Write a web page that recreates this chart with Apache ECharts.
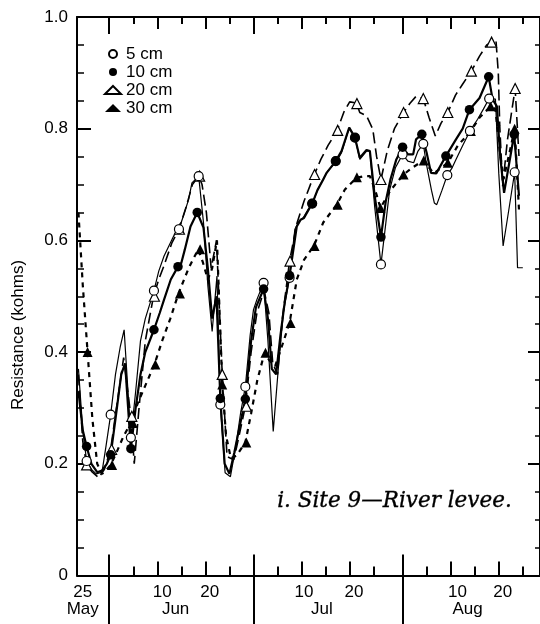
<!DOCTYPE html>
<html>
<head>
<meta charset="utf-8">
<script src="https://cdn.jsdelivr.net/npm/echarts@6/dist/echarts.min.js"></script>
<style>
html,body{margin:0;padding:0;background:#fff;}
#chart{width:540px;height:624px;}
</style>
</head>
<body>
<div id="chart"></div>
<script>
// ---- Data (x = day number: May d = d, June d = 31+d, July d = 61+d, Aug d = 92+d) ----
const seriesNames = ['5 cm', '10 cm', '20 cm', '30 cm'];

// continuous records (lines)
const line5 = [[24.6,0.37],[25.5,0.26],[26.3,0.205],[27.3,0.19],[28.3,0.182],[29.5,0.185],[30.3,0.23],[31.3,0.288],[32.3,0.36],[33.3,0.41],[34.1,0.44],[35.5,0.247],[36.5,0.33],[37.5,0.42],[38.5,0.46],[40.3,0.51],[41.3,0.545],[42.4,0.572],[43.4,0.59],[44.4,0.608],[45.5,0.62],[46.5,0.646],[47.5,0.673],[48.2,0.703],[49.6,0.715],[50.6,0.632],[51.5,0.52],[52.4,0.437],[53.4,0.536],[54.1,0.306],[55.1,0.184],[56.2,0.177],[57.3,0.23],[58.3,0.29],[59.3,0.338],[60.3,0.43],[61.0,0.476],[61.7,0.494],[63.1,0.524],[64.0,0.42],[65.1,0.258],[66.2,0.375],[67.2,0.47],[68.5,0.535],[69.6,0.62],[70.5,0.635],[71.3,0.64],[72.3,0.655],[73.3,0.667],[74.3,0.69],[75.5,0.71],[76.5,0.725],[78.3,0.742],[79.3,0.757],[80.9,0.802],[82.1,0.784],[83.1,0.745],[84.5,0.76],[85.2,0.76],[86.2,0.66],[87.5,0.557],[88.5,0.63],[89.3,0.69],[90.5,0.73],[92.0,0.754],[93.1,0.742],[94.3,0.739],[95.2,0.76],[96.3,0.773],[96.9,0.739],[98.0,0.69],[98.6,0.667],[99.1,0.664],[100.2,0.69],[101.3,0.717],[102.3,0.73],[103.1,0.745],[104.5,0.77],[106.0,0.796],[107.6,0.817],[108.8,0.835],[110.0,0.854],[111.3,0.853],[112.0,0.72],[112.9,0.59],[114.0,0.65],[115.3,0.722],[115.9,0.551],[117.0,0.551]];
const line10 = [[24.6,0.33],[25.5,0.26],[26.3,0.231],[27.3,0.2],[28.5,0.185],[29.5,0.188],[30.5,0.2],[31.3,0.216],[32.3,0.28],[33.5,0.36],[34.3,0.38],[35.5,0.227],[36.5,0.3],[37.5,0.36],[38.5,0.4],[40.3,0.44],[41.5,0.47],[42.4,0.494],[43.8,0.53],[45.3,0.553],[46.0,0.56],[46.7,0.583],[47.9,0.625],[49.3,0.65],[50.6,0.623],[51.5,0.55],[52.4,0.46],[53.3,0.5],[54.1,0.317],[55.0,0.2],[56.0,0.182],[57.0,0.22],[58.2,0.27],[59.3,0.316],[60.5,0.42],[61.5,0.48],[63.1,0.513],[64.0,0.46],[64.8,0.37],[65.7,0.36],[66.6,0.43],[67.5,0.49],[68.5,0.537],[70.0,0.625],[70.8,0.637],[71.5,0.64],[73.2,0.666],[74.3,0.69],[75.5,0.709],[76.2,0.721],[78.1,0.742],[79.3,0.76],[80.9,0.802],[82.1,0.784],[83.1,0.748],[84.5,0.762],[85.2,0.76],[86.2,0.679],[87.5,0.606],[88.5,0.67],[89.5,0.71],[90.7,0.745],[92.0,0.767],[93.1,0.754],[94.2,0.754],[94.8,0.781],[96.0,0.79],[97.0,0.757],[97.9,0.721],[99.0,0.72],[101.0,0.751],[103.1,0.781],[104.5,0.8],[105.9,0.834],[108.0,0.855],[109.9,0.893],[110.7,0.853],[111.6,0.84],[112.3,0.75],[113.1,0.685],[114.2,0.74],[115.2,0.79],[116.2,0.68]];
const line20 = [[24.6,0.36],[25.5,0.24],[26.3,0.198],[27.5,0.185],[28.8,0.175],[30.0,0.19],[31.3,0.226],[32.5,0.3],[34.0,0.39],[35.5,0.285],[36.2,0.2],[37.2,0.3],[38.5,0.42],[40.2,0.5],[41.3,0.53],[42.4,0.555],[44.0,0.595],[45.5,0.62],[47.0,0.66],[48.3,0.7],[49.6,0.715],[50.3,0.7],[51.2,0.65],[52.2,0.55],[53.3,0.6],[54.5,0.36],[55.5,0.213],[56.9,0.207],[58.0,0.25],[59.3,0.303],[60.5,0.4],[61.7,0.47],[63.2,0.51],[64.2,0.47],[65.0,0.38],[66.0,0.36],[67.0,0.46],[68.5,0.563],[70.0,0.63],[71.5,0.67],[73.6,0.717],[75.0,0.745],[76.5,0.77],[78.4,0.797],[79.8,0.83],[81.0,0.848],[82.4,0.846],[83.1,0.829],[84.5,0.823],[85.8,0.799],[86.6,0.75],[87.5,0.709],[88.8,0.76],[90.3,0.8],[92.2,0.829],[93.5,0.845],[94.8,0.858],[96.3,0.854],[97.5,0.82],[98.8,0.787],[100.0,0.81],[101.4,0.829],[103.0,0.86],[104.5,0.88],[106.3,0.903],[108.0,0.93],[109.5,0.95],[110.5,0.955],[111.4,0.96],[111.9,0.9],[112.2,0.805],[112.8,0.697],[113.8,0.78],[115.4,0.872],[116.2,0.751]];
const line30 = [[24.6,0.65],[25.5,0.52],[26.5,0.40],[27.5,0.28],[28.5,0.2],[29.5,0.182],[30.5,0.19],[31.3,0.198],[32.5,0.22],[34.0,0.25],[35.5,0.273],[37.0,0.31],[38.5,0.34],[40.4,0.378],[42.0,0.42],[43.7,0.46],[45.4,0.505],[47.5,0.55],[49.5,0.584],[50.5,0.56],[51.5,0.53],[52.4,0.55],[53.4,0.6],[54.5,0.342],[55.3,0.25],[56.3,0.21],[57.5,0.215],[59.3,0.238],[60.5,0.29],[61.8,0.35],[63.3,0.399],[64.3,0.385],[65.5,0.375],[66.5,0.40],[68.5,0.452],[70.0,0.53],[71.5,0.565],[73.6,0.591],[75.5,0.632],[78.3,0.664],[80.0,0.691],[82.4,0.712],[84.0,0.715],[85.2,0.715],[86.3,0.69],[87.4,0.658],[89.5,0.69],[92.2,0.718],[94.0,0.73],[96.3,0.743],[98.5,0.72],[101.4,0.739],[103.5,0.77],[106.2,0.796],[108.0,0.82],[110.3,0.84],[111.3,0.835],[112.2,0.76],[113.0,0.71],[114.3,0.76],[115.3,0.80],[116.2,0.655]];

// discrete readings (markers)
const mark5 = [[26.3,0.205],[31.3,0.288],[35.5,0.247],[40.3,0.51],[45.5,0.62],[49.6,0.715],[54.1,0.306],[59.3,0.338],[63.1,0.524],[68.5,0.533],[73.2,0.666],[78.1,0.742],[82.1,0.784],[87.5,0.557],[92.0,0.754],[96.3,0.773],[101.3,0.717],[106.0,0.796],[110.0,0.854],[115.3,0.722]];
const mark10 = [[26.3,0.231],[31.3,0.216],[35.5,0.227],[40.3,0.44],[45.3,0.553],[49.3,0.65],[54.1,0.317],[59.3,0.316],[63.1,0.513],[68.5,0.537],[73.2,0.666],[78.1,0.742],[82.1,0.784],[87.5,0.606],[92.0,0.767],[96.0,0.79],[101.0,0.751],[105.9,0.834],[109.9,0.893],[115.2,0.79]];
const mark20 = [[26.3,0.198],[31.5,0.226],[35.7,0.285],[40.4,0.50],[45.6,0.62],[49.8,0.715],[54.5,0.36],[59.5,0.303],[68.6,0.563],[73.7,0.718],[78.5,0.797],[82.5,0.845],[87.5,0.709],[92.2,0.829],[96.3,0.854],[101.4,0.829],[106.3,0.903],[110.5,0.955],[115.4,0.872]];
const mark30 = [[26.5,0.40],[31.6,0.198],[35.9,0.273],[40.6,0.378],[45.7,0.505],[49.9,0.584],[54.5,0.342],[59.5,0.238],[63.5,0.399],[68.7,0.452],[73.7,0.59],[78.5,0.664],[82.5,0.713],[87.4,0.658],[92.2,0.718],[96.4,0.743],[101.4,0.739],[106.2,0.796],[110.3,0.84],[115.3,0.80]];

// axis ticks and labels
const dayLabels = ['25', '10', '20', '10', '20', '10', '20'];
const dayLabelPos = [25.5, 42.0, 51.9, 71.5, 81.9, 103.4, 112.8];
const monthLabels = ['May', 'Jun', 'Jul', 'Aug'];
const monthLabelPos = [25.5, 44.8, 75.2, 105.5];
const monthBoundaries = [31, 61, 92];
const tenDayTicks = [41, 51, 71, 81, 102, 112];
const fiveDayTicks = [36, 46, 56, 66, 76, 86, 97, 107, 117];
const yTickLabels = ['0', '0.2', '0.4', '0.6', '0.8', '1.0'];

const X_MIN = 24.3, X_MAX = 120.57;
const FONT = '"Liberation Sans", Arial, Helvetica, sans-serif';
const black = '#000';

function nearestLabel(v, pos, labels) {
  let best = 0, bd = Infinity;
  pos.forEach((p, i) => { const d = Math.abs(p - v); if (d < bd) { bd = d; best = i; } });
  return labels[best];
}

function tickAxis(position, len, values, inside, extra) {
  return Object.assign({
    type: 'value', min: X_MIN, max: X_MAX, position: position, gridIndex: 0,
    axisLine: { show: false },
    axisTick: { show: true, inside: inside, length: len, customValues: values, lineStyle: { color: black, width: 2 } },
    axisLabel: { show: false },
    splitLine: { show: false }
  }, extra || {});
}

const chart = echarts.init(document.getElementById('chart'), null, { renderer: 'canvas' });

const option = {
  animation: false,
  backgroundColor: '#fff',
  grid: { left: 77, top: 17, width: 464, height: 558.5, containLabel: false },
  legend: {
    data: seriesNames,
    orient: 'vertical',
    left: 99, top: 40.5,
    itemWidth: 16, itemHeight: 8, itemGap: 1,
    textStyle: { fontFamily: FONT, fontSize: 17, color: black, lineHeight: 17 },
    selectedMode: false
  },
  xAxis: [
    {
      type: 'value', min: X_MIN, max: X_MAX, position: 'bottom',
      axisLine: { show: true, lineStyle: { color: black, width: 2 } },
      axisTick: { show: true, inside: true, length: 9, customValues: fiveDayTicks, lineStyle: { color: black, width: 2 } },
      axisLabel: {
        customValues: dayLabelPos, margin: 8, color: black, fontFamily: FONT, fontSize: 17,
        formatter: v => nearestLabel(v, dayLabelPos, dayLabels)
      },
      splitLine: { show: false }
    },
    tickAxis('bottom', 14, tenDayTicks, true),
    tickAxis('bottom', 21, monthBoundaries, true),
    tickAxis('bottom', 50, monthBoundaries, false, {
      axisLabel: {
        show: true, customValues: monthLabelPos, margin: 25, color: black, fontFamily: FONT, fontSize: 17,
        formatter: v => nearestLabel(v, monthLabelPos, monthLabels)
      }
    }),
    tickAxis('top', 7, fiveDayTicks, true, { axisLine: { show: true, lineStyle: { color: black, width: 2 } } }),
    tickAxis('top', 12, tenDayTicks, true),
    tickAxis('top', 17, monthBoundaries, true)
  ],
  yAxis: [
    {
      type: 'value', min: 0, max: 1, interval: 0.2, position: 'left',
      axisLine: { show: true, lineStyle: { color: black, width: 2 } },
      axisTick: { show: true, inside: true, length: 14, lineStyle: { color: black, width: 2 } },
      minorTick: { show: true, splitNumber: 4, length: 7, lineStyle: { color: black, width: 1.5 } },
      axisLabel: {
        margin: 9, color: black, fontFamily: FONT, fontSize: 17,
        formatter: v => yTickLabels[Math.round(v / 0.2)]
      },
      splitLine: { show: false }
    },
    {
      type: 'value', min: 0, max: 1, interval: 0.2, position: 'right',
      axisLine: { show: true, lineStyle: { color: black, width: 2 } },
      axisTick: { show: true, inside: true, length: 12, lineStyle: { color: black, width: 2 } },
      minorTick: { show: true, splitNumber: 4, length: 5, lineStyle: { color: black, width: 1.5 } },
      axisLabel: { show: false },
      splitLine: { show: false }
    }
  ],
  graphic: [
    {
      type: 'text', x: 18, y: 335, rotation: Math.PI / 2,
      style: { text: 'Resistance (kohms)', fontFamily: FONT, fontSize: 17, fill: black, align: 'center', verticalAlign: 'middle' }
    },
    {
      type: 'text', left: 277, top: 490,
      style: { text: 'i. Site 9\u2014River levee.', font: 'italic 21.5px "DejaVu Serif", serif', fill: black, stroke: black, lineWidth: 0.35 }
    }
  ],
  series: [
    { name: '5 cm line', type: 'line', data: line5, symbol: 'none', lineStyle: { color: black, width: 1.2 }, z: 2 },
    { name: '10 cm line', type: 'line', data: line10, symbol: 'none', lineStyle: { color: black, width: 2.2 }, z: 2 },
    { name: '20 cm line', type: 'line', data: line20, symbol: 'none', lineStyle: { color: black, width: 1.6, type: [11, 5] }, z: 2 },
    { name: '30 cm line', type: 'line', data: line30, symbol: 'none', lineStyle: { color: black, width: 2.2, type: [5, 5] }, z: 2 },
    { name: '30 cm', type: 'scatter', data: mark30, symbol: 'triangle', symbolSize: 10, itemStyle: { color: black, opacity: 1 }, z: 3 },
    { name: '20 cm', type: 'scatter', data: mark20, symbol: 'triangle', symbolSize: 10, itemStyle: { color: '#fff', borderColor: black, borderWidth: 1.2, opacity: 1 }, z: 4 },
    { name: '5 cm', type: 'scatter', data: mark5, symbol: 'circle', symbolSize: 9, itemStyle: { color: '#fff', borderColor: black, borderWidth: 1.2, opacity: 1 }, z: 5 },
    { name: '10 cm', type: 'scatter', data: mark10, symbol: 'circle', symbolSize: 9.5, itemStyle: { color: black, opacity: 1 }, z: 6 }
  ]
};
chart.setOption(option);
</script>
</body>
</html>
